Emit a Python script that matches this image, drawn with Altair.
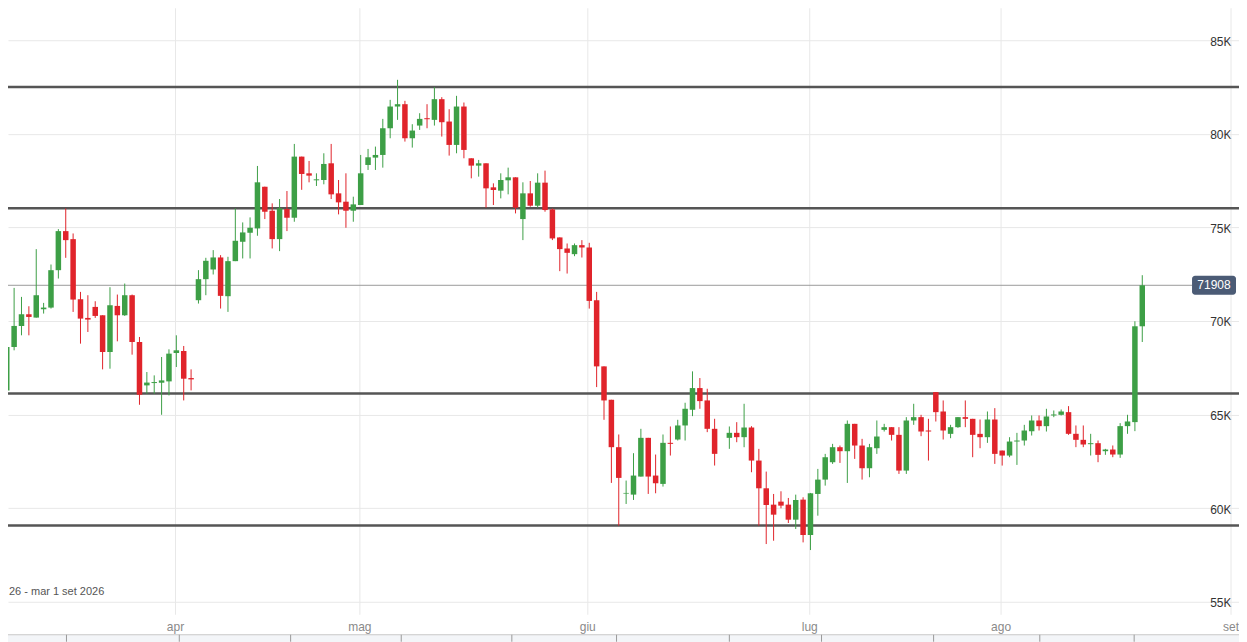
import altair as alt
import pandas as pd

# ---- candle data (daily OHLC, one slot per candle; slot 97 has no candle) ----
slots = list(range(0, 97)) + list(range(98, 155))

opens = [
    66293, 68612, 69736, 70360, 70182, 70628, 70717, 72715, 74802, 74374,
    71163, 70164, 70753, 70306, 68344, 70806, 70306, 71377, 68879, 66560,
    66685, 66703, 66774, 68291, 68398, 66952,
    71111, 72235, 72752, 73395, 71325, 73198, 74233, 74714, 74946, 77177,
    75892, 74375, 75981, 75517, 78782, 77890, 77516, 77533, 78425, 76820,
    76374, 75892, 76196, 78336, 78729, 78871,
    80298, 81458, 81583, 79763, 80441, 80834, 80745, 81851, 80656, 79407,
    81458, 78693, 78301, 78425, 77141, 76963, 77516, 77676, 75446, 76820,
    76160, 77391, 75964, 74465, 73874, 73571, 74052, 73927, 71109, 67576,
    65792, 63259, 60779, 60725, 61689, 63758, 61743, 61297, 63491, 63669,
    64419, 65257, 66417, 65757, 64240,
    63758, 64026, 63794, 64310, 62544, 61063, 60189, 60350, 60189, 59386,
    60457, 58566, 60760, 61527, 62455, 63258, 63044, 64506, 63347, 62134,
    63204, 64185, 64328, 63918, 62009, 64685, 64864, 64150, 66201, 65166,
    63971, 64328, 64864, 64774, 63971, 63793, 64738, 63079, 62812, 63561,
    63615, 64114, 64685, 64382, 64953, 64988, 65131, 63973, 63652, 63420,
    63473, 63045, 63134, 62867, 64384, 64598, 69718,
]
highs = [
    69504, 71769, 71288, 70788, 73839, 70967, 73018, 74909, 76015, 74677,
    71555, 71377, 71056, 70306, 71805, 71413, 72001, 71413, 69147, 67274,
    67095, 68077, 68487, 69236, 68666, 67416,
    72717, 73376, 73787, 73519, 73430, 76017, 75267, 75535, 78283, 77177,
    76285, 76516, 76944, 79460, 78782, 78550, 77890, 78961, 79460, 77533,
    77890, 76641, 78871, 79193, 79317, 80798,
    81815, 82885, 81762, 80513, 81101, 81583, 82493, 81958, 81315, 82029,
    81672, 78693, 78604, 78425, 77355, 77890, 78193, 77676, 77409, 77480,
    77890, 78033, 76017, 74465, 74141, 74141, 74320, 74177, 71555, 67576,
    65792, 63937, 61475, 62938, 64240, 63758, 62866, 63937, 64365, 64722,
    65632, 67309, 66952, 66381, 64776,
    64365, 64596, 65577, 64382, 63168, 61955, 60760, 60903, 60546, 60724,
    60582, 60814, 62098, 62901, 63436, 63347, 64685, 64506, 63704, 63436,
    64685, 64506, 64328, 64328, 64864, 65577, 64988, 64774, 66201, 65755,
    64453, 64864, 65755, 64774, 64738, 65166, 65345, 63079, 63793, 64024,
    64453, 64953, 64953, 65309, 65220, 65273, 65452, 64419, 64419, 63973,
    63616, 63170, 63349, 64544, 64990, 69985, 72447,
]
lows = [
    65936, 68434, 69236, 69236, 70182, 70396, 70664, 72269, 73375, 70485,
    68790, 69414, 70164, 67416, 67452, 68915, 70271, 68202, 65525, 66114,
    66114, 64990, 66025, 67541, 65757, 66293,
    70932, 71378, 72485, 70665, 70487, 73198, 73341, 73341, 74554, 75446,
    73876, 73733, 74804, 75303, 77008, 77409, 77213, 77302, 76516, 75696,
    74982, 75303, 76196, 78069, 78069, 78193,
    79763, 80745, 79585, 79264, 80209, 80298, 80441, 79853, 78836, 78961,
    78693, 77622, 77712, 76052, 76196, 76552, 76766, 75749, 74322, 76106,
    76052, 75839, 74322, 72663, 72536, 73463, 73392, 70663, 66470, 64722,
    61350, 59067, 60226, 60440, 61689, 60762, 60797, 61154, 62813, 63616,
    63616, 64918, 65311, 64062, 62278,
    63170, 63525, 63257, 61920, 59065, 58084, 58262, 59993, 59208, 58887,
    58173, 57763, 59600, 61206, 62366, 62419, 61349, 62633, 61527, 61652,
    62901, 64096, 63615, 61831, 61831, 64453, 63847, 62544, 64631, 63668,
    63739, 64292, 64328, 62723, 63204, 63490, 62366, 62277, 62723, 62312,
    63347, 63882, 64150, 64096, 64863, 64953, 63918, 63260, 63260, 62814,
    62457, 62849, 62724, 62689, 63973, 64116, 68879,
]
closes = [
    68612, 69736, 70360, 70217, 71377, 70717, 72715, 74802, 74320, 71145,
    70128, 70075, 70271, 68344, 70842, 70306, 71377, 68879, 66061, 66711,
    66738, 66827, 68256, 68434, 66917, 66881,
    72235, 73216, 73395, 71343, 73198, 74286, 74732, 74982, 77409, 75839,
    74375, 76017, 75517, 78782, 77855, 77766, 77569, 78390, 76766, 76338,
    75892, 76231, 77890, 78746, 78871, 80298,
    81458, 81583, 79763, 80174, 80798, 80780, 81851, 80620, 79407, 81458,
    79139, 78301, 78425, 77087, 76998, 77533, 77676, 76052, 76820, 76160,
    77391, 75928, 74411, 73841, 73642, 74052, 73927, 71073, 67576, 65756,
    63259, 61618, 60815, 61743, 63758, 61689, 61332, 63491, 63437, 64419,
    65311, 66417, 65721, 64240, 62902,
    64026, 63794, 64310, 62544, 61063, 60171, 59654, 60136, 59386, 60439,
    58566, 60796, 61527, 62722, 63258, 63044, 64506, 63347, 62134, 63258,
    63829, 64328, 63918, 62009, 64685, 64864, 64096, 64096, 65131, 64150,
    64328, 64864, 64774, 63918, 63793, 64738, 62901, 62812, 63561, 63615,
    64150, 64685, 64382, 64899, 65006, 65166, 63973, 63652, 63402, 63473,
    62849, 63134, 62867, 64384, 64633, 69718, 71908,
]

# ---- axis / annotation data ----
month_labels = ["apr", "mag", "giu", "lug", "ago", "set"]
month_slots = [22.89, 47.89, 78.8, 108.9, 134.85, 166.04]
level_values = [82500, 76030, 66130, 59080]
last_price = 71908
y_ticks = [55000, 60000, 65000, 70000, 75000, 80000, 85000]
nav_ticks = [8.1, 23.4, 38.5, 53.5, 68.5, 82.7, 98.0, 110.5, 125.7, 140.1, 152.9]
range_text = "26 - mar 1 set 2026"

GREEN = "#3d9f46"
RED = "#e0242b"
FONT = "Liberation Sans"
W, H = 1232, 634

df = pd.DataFrame({"i": slots, "open": opens, "high": highs, "low": lows, "close": closes})
months = pd.DataFrame({"pos": month_slots, "label": month_labels})
levels = pd.DataFrame({"level": level_values})
badge = pd.DataFrame({"v": [last_price], "t": [str(last_price)]})
nav = pd.DataFrame({"pos": nav_ticks})
rng = pd.DataFrame({"t": [range_text]})

x_scale = alt.Scale(domain=[0.847, 166.44], nice=False, zero=False)
y_scale = alt.Scale(domain=[52865, 86708], nice=False, zero=False)
y_axis = alt.Axis(
    orient="right", values=y_ticks, labelExpr="datum.value / 1000 + 'K'",
    grid=True, gridColor="#e8e8e8", gridWidth=1, domain=False, ticks=False,
    labelPadding=-8, labelAlign="right", labelBaseline="middle", labelOffset=1,
    labelFontSize=12, labelColor="#333333", labelFont=FONT, title=None,
)

color_cond = alt.condition(alt.datum.close >= alt.datum.open, alt.value(GREEN), alt.value(RED))

month_grid = alt.Chart(months).mark_rule(color="#e8e8e8", strokeWidth=1).encode(
    x=alt.X("pos:Q", scale=x_scale, axis=None),
    y=alt.value(0), y2=alt.value(607),
)

level_lines = alt.Chart(levels).mark_rule(color="#555555", strokeWidth=2.5).encode(
    y=alt.Y("level:Q", scale=y_scale, axis=y_axis),
    x=alt.value(0), x2=alt.value(W),
)

price_line = alt.Chart(badge).mark_rule(color="#9a9a9a", strokeWidth=1).encode(
    y=alt.Y("v:Q", scale=y_scale, axis=y_axis),
    x=alt.value(0), x2=alt.value(1185),
)

wicks = alt.Chart(df).mark_rule(strokeWidth=1).encode(
    x=alt.X("i:Q", scale=x_scale, axis=None),
    y=alt.Y("low:Q", scale=y_scale, axis=y_axis),
    y2="high:Q",
    color=color_cond,
)

bodies = alt.Chart(df).mark_bar(size=5.5).encode(
    x=alt.X("i:Q", scale=x_scale, axis=None),
    y=alt.Y("open:Q", scale=y_scale, axis=y_axis),
    y2="close:Q",
    color=color_cond,
)

badge_rect = alt.Chart(badge).mark_rect(color="#4b5b75", cornerRadius=3, yOffset=-9.5, y2Offset=9.5).encode(
    y=alt.Y("v:Q", scale=y_scale, axis=y_axis), y2="v:Q",
    x=alt.value(1185), x2=alt.value(1229),
)
badge_text = alt.Chart(badge).mark_text(color="white", fontSize=12, font=FONT, baseline="middle", align="center").encode(
    y=alt.Y("v:Q", scale=y_scale, axis=y_axis),
    x=alt.value(1207), text="t:N",
)

month_text = alt.Chart(months).mark_text(color="#8a8a8a", fontSize=12, font=FONT, baseline="middle", align="center").encode(
    x=alt.X("pos:Q", scale=x_scale, axis=None),
    y=alt.value(619), text="label:N",
)

range_label = alt.Chart(rng).mark_text(color="#555555", fontSize=11, font=FONT, baseline="middle", align="left").encode(
    x=alt.value(1), y=alt.value(584), text="t:N",
)

nav_rect = alt.Chart(rng).mark_rect(fill="#f3f5f8", stroke="#c8c8c8", strokeWidth=1).encode(
    x=alt.value(-1), x2=alt.value(W + 1), y=alt.value(627), y2=alt.value(H + 2),
)
nav_tick = alt.Chart(nav).mark_rule(color="#9a9a9a", strokeWidth=1).encode(
    x=alt.X("pos:Q", scale=x_scale, axis=None),
    y=alt.value(627), y2=alt.value(H),
)

chart = alt.layer(
    month_grid, level_lines, price_line, wicks, bodies,
    badge_rect, badge_text, month_text, range_label, nav_rect, nav_tick,
).properties(
    width=W, height=H,
    autosize=alt.AutoSizeParams(type="none"),
    padding=0,
).configure(font=FONT, background="white").configure_view(stroke=None)

chart.save("out.html", embed_options={"renderer": "svg", "actions": False})
